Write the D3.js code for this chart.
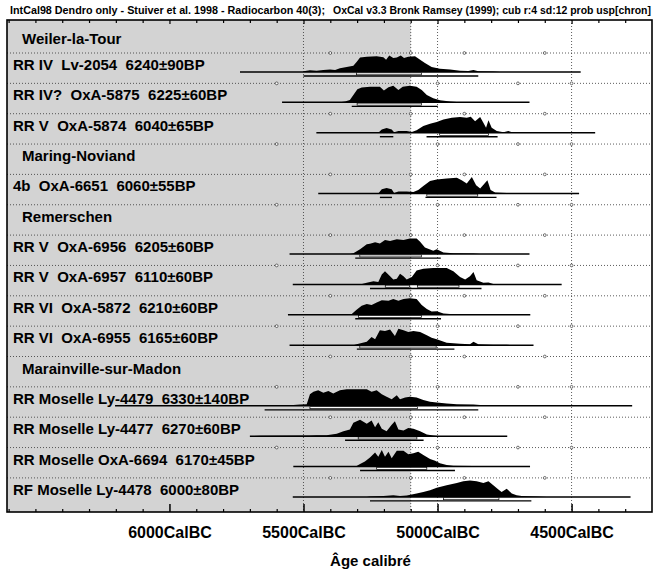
<!DOCTYPE html>
<html>
<head>
<meta charset="utf-8">
<script src="https://cdn.jsdelivr.net/npm/d3@7"></script>
<style>
  html, body { margin: 0; padding: 0; background: #fff; }
  svg { display: block; font-family: "Liberation Sans", Arial, sans-serif; }
  text { white-space: pre; }
</style>
</head>
<body>
<svg id="chart" width="653" height="573"></svg>
<script>
// row labels, top to bottom (group headers are in headerRows)
var rowLabels = [
    "Weiler-la-Tour",
    "RR IV  Lv-2054  6240±90BP",
    "RR IV?  OxA-5875  6225±60BP",
    "RR V  OxA-5874  6040±65BP",
    "Maring-Noviand",
    "4b  OxA-6651  6060±55BP",
    "Remerschen",
    "RR V  OxA-6956  6205±60BP",
    "RR V  OxA-6957  6110±60BP",
    "RR VI  OxA-5872  6210±60BP",
    "RR VI  OxA-6955  6165±60BP",
    "Marainville-sur-Madon",
    "RR Moselle Ly-4479  6330±140BP",
    "RR Moselle Ly-4477  6270±60BP",
    "RR Moselle OxA-6694  6170±45BP",
    "RF Moselle Ly-4478  6000±80BP"
];
var headerRows = [0, 4, 6, 11];
var sampleRows = [1, 2, 3, 5, 7, 8, 9, 10, 12, 13, 14, 15];

// full extent of each sample line (years BC)
var sampleLines = [
    [5737, 4466], [5580, 4657], [5452, 4412], [5445, 4472],
    [5552, 4657], [5540, 4537], [5558, 4654], [5552, 4642],
    [6203, 4274], [5700, 4740], [5538, 4655], [5540, 4280]
];

// 68.2% and 95.4% ranges (years BC)
var range68 = [
    [[5302, 5060]], [[5300, 5060]], [[4992, 4810]], [[5040, 4850]],
    [[5290, 5060]], [[5195, 5105], [5075, 4920]], [[5295, 5060]], [[5290, 5005]],
    [[5476, 5075]], [[5296, 5077]], [[5227, 5040]], [[4978, 4771]]
];
var range95 = [
    [[5500, 4848]], [[5320, 4999]], [[5215, 5165], [5041, 4776]], [[5215, 5170], [5045, 4780]],
    [[5307, 4988]], [[5252, 4836]], [[5307, 4987]], [[5301, 4937]],
    [[5645, 4848]], [[5345, 5052]], [[5289, 4935]], [[5252, 4650]]
];

// calibrated probability (relative), [year BC, p]
var densities = [
    [[5500,0.05],[5476,0.1],[5451,0.08],[5426,0.12],[5401,0.15],[5382,0.12],[5364,0.22],[5339,0.3],[5314,0.38],[5302,0.6],[5289,0.88],[5264,0.92],[5227,0.95],[5202,0.9],[5192,0.75],[5180,1],[5165,0.85],[5152,0.88],[5137,1],[5125,0.85],[5109,0.92],[5084,0.95],[5065,0.75],[5047,0.55],[5022,0.3],[4991,0.2],[4953,0.15],[4916,0.08],[4885,0.06],[4866,0.12],[4848,0.04],[4792,0.03],[4767,0]],
    [[5364,0],[5345,0.05],[5327,0.15],[5314,0.45],[5299,0.8],[5283,0.9],[5252,0.95],[5215,0.95],[5200,0.72],[5183,0.92],[5165,1],[5146,0.75],[5130,0.95],[5103,1],[5078,0.95],[5059,0.75],[5040,0.45],[5016,0.25],[4991,0.12],[4953,0.05],[4916,0]],
    [[5221,0],[5208,0.2],[5190,0.28],[5171,0.2],[5162,0.03],[5146,0.1],[5115,0.1],[5096,0.05],[5078,0.15],[5053,0.4],[5028,0.55],[5003,0.65],[4978,0.8],[4947,0.9],[4916,0.95],[4891,0.9],[4876,0.97],[4860,0.7],[4841,0.95],[4829,0.6],[4819,0.3],[4810,0.75],[4798,0.3],[4779,0.1],[4754,0.03],[4736,0.1],[4717,0]],
    [[5221,0],[5208,0.25],[5190,0.32],[5171,0.25],[5162,0.03],[5146,0.12],[5115,0.12],[5090,0.08],[5072,0.2],[5053,0.45],[5028,0.75],[5003,0.85],[4966,0.9],[4928,0.95],[4910,0.8],[4891,0.6],[4872,1],[4856,0.5],[4841,0.3],[4814,0.8],[4802,0.2],[4785,0.05],[4742,0.03],[4717,0]],
    [[5326,0],[5314,0.05],[5289,0.3],[5264,0.6],[5252,0.62],[5233,0.72],[5215,0.65],[5196,0.85],[5177,0.8],[5152,0.9],[5127,0.85],[5103,0.95],[5078,0.95],[5065,0.75],[5047,0.4],[5016,0.2],[5003,0.3],[4978,0.1],[4941,0.05],[4866,0.04],[4841,0]],
    [[5289,0],[5264,0.1],[5239,0.2],[5221,0.15],[5208,0.6],[5196,0.8],[5177,0.5],[5165,0.3],[5152,0.35],[5140,0.65],[5127,0.5],[5115,0.3],[5096,0.45],[5078,0.85],[5053,0.95],[5016,1],[4966,1],[4941,0.8],[4916,0.45],[4897,0.3],[4879,0.5],[4866,0.75],[4854,0.25],[4829,0.1],[4810,0.12],[4792,0.03],[4642,0.01],[4630,0]],
    [[5333,0],[5320,0.05],[5302,0.3],[5283,0.55],[5264,0.65],[5246,0.6],[5227,0.75],[5208,0.88],[5183,0.85],[5165,0.95],[5146,0.85],[5127,0.95],[5103,1],[5078,0.95],[5059,0.6],[5040,0.35],[5022,0.2],[5003,0.22],[4978,0.08],[4941,0.04],[4879,0.03],[4866,0]],
    [[5314,0],[5302,0.05],[5264,0.2],[5246,0.5],[5233,0.35],[5215,0.9],[5196,0.85],[5177,0.95],[5159,0.55],[5146,1],[5127,0.9],[5109,0.8],[5090,0.85],[5065,0.8],[5040,0.6],[5022,0.45],[5003,0.35],[4966,0.15],[4916,0.08],[4879,0.05],[4866,0.2],[4848,0.05],[4792,0.03],[4742,0.02],[4717,0]],
    [[5811,0],[5737,0.02],[5662,0.04],[5588,0.05],[5538,0.05],[5513,0.08],[5488,0.1],[5476,0.7],[5463,0.85],[5445,0.95],[5426,0.8],[5407,0.9],[5389,0.75],[5364,0.95],[5339,1],[5264,1],[5246,0.85],[5227,0.95],[5208,0.7],[5190,0.55],[5171,0.4],[5152,0.65],[5140,0.4],[5121,0.5],[5103,0.55],[5078,0.5],[5053,0.35],[5028,0.25],[5003,0.2],[4966,0.15],[4928,0.1],[4866,0.08],[4841,0.05],[4804,0.03],[4792,0]],
    [[5700,0],[5662,0.02],[5476,0.04],[5451,0.06],[5414,0.06],[5376,0.15],[5351,0.3],[5327,0.4],[5314,0.82],[5289,1],[5264,0.75],[5246,0.95],[5233,0.55],[5221,0.85],[5208,0.45],[5190,0.3],[5171,0.7],[5159,0.9],[5146,0.4],[5127,0.35],[5109,0.5],[5090,0.45],[5065,0.3],[5040,0.1],[5016,0.05],[4991,0]],
    [[5314,0],[5302,0.04],[5289,0.15],[5271,0.3],[5252,0.55],[5233,0.85],[5221,0.6],[5208,1],[5196,0.6],[5183,0.9],[5171,0.5],[5152,0.95],[5127,0.95],[5109,0.75],[5090,0.8],[5072,0.9],[5053,0.7],[5028,0.45],[5009,0.35],[4991,0.2],[4966,0.1],[4941,0.05],[4866,0.03],[4854,0]],
    [[5264,0],[5252,0.03],[5202,0.05],[5165,0.1],[5140,0.05],[5115,0.08],[5078,0.2],[5053,0.3],[5028,0.4],[5003,0.55],[4966,0.7],[4928,0.85],[4904,0.95],[4879,1],[4854,0.95],[4829,0.85],[4810,0.95],[4792,0.7],[4773,0.45],[4761,0.3],[4742,0.5],[4723,0.2],[4705,0.1],[4686,0.05],[4630,0.02],[4593,0]]
];

var majorTicks = [6000, 5500, 5000, 4500];
var dendroLimit = 5100;   // edge of the shaded part
var markYearsOdd = [5400, 5100, 4900, 4600];
var markYearsEven = [5600, 5000, 4700, 4500];
var titleLeft = "IntCal98 Dendro only - Stuiver et al. 1998 - Radiocarbon 40(3);";
var titleRight = "OxCal v3.3 Bronk Ramsey (1999); cub r:4 sd:12 prob usp[chron]";
var axisTitle = "Âge calibré";

var svg = d3.select("#chart");
var plotLeft = 7, plotRight = 652, plotTop = 20, plotBottom = 512;

var x = d3.scaleLinear().domain([6606, 4200]).range([plotLeft, plotRight]);
var band = d3.scaleLinear().domain([0, 16]).range([22.65, 508.25]);
var h = d3.scaleLinear().domain([0, 1]).range([0, 16.5]);

svg.append("rect").attr("width", 653).attr("height", 573).attr("fill", "#fff");

// shaded area (dendro part)
svg.append("rect")
    .attr("x", plotLeft).attr("y", plotTop)
    .attr("width", x(dendroLimit) - plotLeft).attr("height", plotBottom - plotTop)
    .attr("fill", "#d3d3d3");

// dotted grid
var grid = svg.append("g").attr("stroke", "#333").attr("stroke-width", 0.8).attr("stroke-dasharray", "1,2");
d3.range(1, 16).forEach(function(k) {
    grid.append("line").attr("x1", plotLeft).attr("x2", plotRight)
        .attr("y1", band(k)).attr("y2", band(k));
});
[5500, 5000, 4500, dendroLimit].forEach(function(yr) {
    grid.append("line").attr("x1", x(yr)).attr("x2", x(yr))
        .attr("y1", plotTop).attr("y2", plotBottom);
});
var marks = svg.append("g").attr("fill", "#fff").attr("stroke", "#333").attr("stroke-width", 0.7);
d3.range(1, 16).forEach(function(k) {
    var yrs = (k % 2 === 1) ? markYearsOdd : markYearsEven;
    yrs.forEach(function(yr) {
        marks.append("circle").attr("cx", x(yr)).attr("cy", band(k)).attr("r", 1.4);
    });
});

// distributions
var area = d3.area()
    .x(function(d) { return x(d[0]); })
    .y1(function(d) { return -h(d[1]); })
    .y0(0);

sampleRows.forEach(function(row, i) {
    var base = band(row) + 19;
    var g = svg.append("g").attr("transform", "translate(0," + base + ")");
    g.append("path").attr("d", area(densities[i])).attr("fill", "#000");
    g.append("line")
        .attr("x1", x(sampleLines[i][0])).attr("x2", x(sampleLines[i][1]))
        .attr("y1", 0).attr("y2", 0)
        .attr("stroke", "#000").attr("stroke-width", 1.5);
    range68[i].forEach(function(r) {
        g.append("rect")
            .attr("x", x(r[0])).attr("y", 0.8)
            .attr("width", x(r[1]) - x(r[0])).attr("height", 2)
            .attr("fill", "#fff").attr("stroke", "#000").attr("stroke-width", 0.7);
    });
    range95[i].forEach(function(r) {
        g.append("line")
            .attr("x1", x(r[0])).attr("x2", x(r[1]))
            .attr("y1", 4).attr("y2", 4)
            .attr("stroke", "#000").attr("stroke-width", 1.4);
    });
});

// row labels
svg.append("g").selectAll("text")
    .data(rowLabels)
    .join("text")
    .attr("x", function(d, i) { return headerRows.indexOf(i) >= 0 ? 22 : 13; })
    .attr("y", function(d, i) { return i === 0 ? 44 : band(i) + 17; })
    .attr("font-size", 15)
    .attr("font-weight", "bold")
    .attr("fill", "#000")
    .text(function(d) { return d; });

// frame
svg.append("rect")
    .attr("x", plotLeft).attr("y", plotTop)
    .attr("width", plotRight - plotLeft).attr("height", plotBottom - plotTop)
    .attr("fill", "none").attr("stroke", "#000").attr("stroke-width", 1.6);

// ticks
var minorTicks = d3.range(4300, 6601, 100).filter(function(t) { return majorTicks.indexOf(t) < 0; });
var bottomMinor = d3.axisBottom(x).tickValues(minorTicks).tickSize(-3).tickFormat("");
var topMinor = d3.axisTop(x).tickValues(minorTicks).tickSize(-3).tickFormat("");
var bottomMajor = d3.axisBottom(x).tickValues(majorTicks).tickSize(-8)
    .tickFormat(function(d) { return d + "CalBC"; });
var topMajor = d3.axisTop(x).tickValues(majorTicks).tickSize(-4).tickFormat("");

[[bottomMinor, plotBottom], [topMinor, plotTop], [topMajor, plotTop]].forEach(function(a) {
    var g = svg.append("g").attr("transform", "translate(0," + a[1] + ")").call(a[0]);
    g.select(".domain").remove();
    g.selectAll("line").attr("stroke", "#000").attr("stroke-width", 1.2);
});
var xAxis = svg.append("g").attr("transform", "translate(0," + plotBottom + ")").call(bottomMajor);
xAxis.select(".domain").remove();
xAxis.selectAll("line").attr("stroke", "#000").attr("stroke-width", 1.5);
xAxis.selectAll("text")
    .attr("y", 26).attr("dy", null)
    .attr("font-family", "Liberation Sans, Arial, sans-serif")
    .attr("font-size", 16).attr("font-weight", "bold").attr("fill", "#000");

svg.append("text")
    .attr("x", x(5250)).attr("y", 566)
    .attr("text-anchor", "middle")
    .attr("font-size", 15).attr("font-weight", "bold")
    .text(axisTitle);

// header line
svg.append("text").attr("x", 10).attr("y", 14)
    .attr("font-size", 10.5).attr("font-weight", "bold")
    .attr("textLength", 315).attr("lengthAdjust", "spacingAndGlyphs")
    .text(titleLeft);
svg.append("text").attr("x", 333).attr("y", 14)
    .attr("font-size", 10.5).attr("font-weight", "bold")
    .attr("textLength", 318).attr("lengthAdjust", "spacingAndGlyphs")
    .text(titleRight);
</script>
</body>
</html>
